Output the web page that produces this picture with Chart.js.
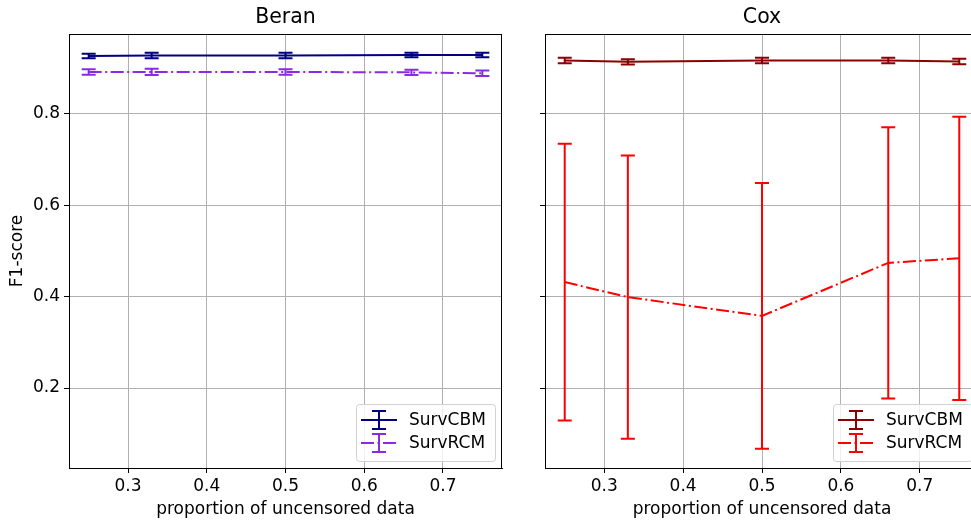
<!DOCTYPE html>
<html>
<head>
<meta charset="utf-8">
<script src="https://cdn.jsdelivr.net/npm/chart.js@4.4.0/dist/chart.umd.min.js"></script>
<style>
  html, body { margin: 0; padding: 0; background: #fff; overflow: hidden; width: 971px; height: 523px; }
  canvas { position: absolute; top: 0; }
  #chartBeran { left: 0; }
  #chartCox { left: 510px; }
</style>
</head>
<body>
<canvas id="chartBeran" width="520" height="523"></canvas>
<canvas id="chartCox" width="490" height="523"></canvas>
<script>
/* ---- data ---- */
const xVals  = [0.25, 0.33, 0.5, 0.66, 0.75];
const xTicks = [0.3, 0.4, 0.5, 0.6, 0.7];
const yTicks = [0.2, 0.4, 0.6, 0.8];

const beranCBM    = [0.927, 0.928, 0.928, 0.929, 0.929];
const beranCBMErr = [0.005, 0.006, 0.006, 0.005, 0.005];
const beranRCM    = [0.892, 0.892, 0.892, 0.891, 0.889];
const beranRCMErr = [0.006, 0.007, 0.006, 0.006, 0.006];

const coxCBM    = [0.917, 0.914, 0.917, 0.917, 0.915];
const coxCBMErr = [0.006, 0.006, 0.006, 0.006, 0.006];
const coxRCM    = [0.432, 0.399, 0.358, 0.474, 0.484];
const coxRCMErr = [0.303, 0.310, 0.291, 0.297, 0.310];

const FONT = "'DejaVu Sans', sans-serif";
const FS = 17;
const DASHDOT = [13, 3.5, 2, 3.5];

Chart.defaults.font.family = FONT;
Chart.defaults.color = '#000';

function series(label, vals, errs, color, dash) {
  return {
    label, borderColor: color, backgroundColor: color, borderWidth: 2,
    borderDash: dash || [], pointRadius: 0, fill: false, tension: 0,
    data: xVals.map((x, i) => ({ x, y: vals[i] })),
    errors: errs
  };
}

// error bars with caps, clipped to the axes like matplotlib
const errorBars = {
  id: 'errorBars',
  afterDatasetsDraw(chart) {
    const { ctx, chartArea: a, scales: { x, y } } = chart;
    ctx.save();
    ctx.beginPath(); ctx.rect(a.left, a.top, a.width, a.height); ctx.clip();
    chart.data.datasets.forEach(ds => {
      ctx.strokeStyle = ds.borderColor; ctx.lineWidth = 2; ctx.setLineDash([]);
      ds.data.forEach((p, i) => {
        const e = ds.errors[i];
        const px = x.getPixelForValue(p.x);
        const lo = y.getPixelForValue(p.y - e), hi = y.getPixelForValue(p.y + e);
        ctx.beginPath();
        ctx.moveTo(px, lo); ctx.lineTo(px, hi);
        ctx.moveTo(px - 7, lo); ctx.lineTo(px + 7, lo);
        ctx.moveTo(px - 7, hi); ctx.lineTo(px + 7, hi);
        ctx.stroke();
      });
    });
    ctx.restore();
  }
};

// frame, title and a matplotlib-style legend
const decor = {
  id: 'decor',
  afterDraw(chart) {
    const { ctx, chartArea: a } = chart;
    const o = chart.options.plugins.decor;
    ctx.save();
    ctx.strokeStyle = '#000'; ctx.lineWidth = 1; ctx.setLineDash([]);
    ctx.strokeRect(Math.round(a.left) + 0.5, Math.round(a.top) + 0.5, Math.round(a.width) - 1, Math.round(a.height));

    ctx.fillStyle = '#000';
    ctx.font = `20.5px ${FONT}`;
    ctx.textAlign = 'center'; ctx.textBaseline = 'middle';
    ctx.fillText(o.title, (a.left + a.right) / 2, 18);

    const w = 139, h = 57;
    const bx = a.right - 7 - w, by = a.bottom - 7 - h;
    ctx.beginPath();
    ctx.roundRect(bx + 0.5, by + 0.5, w, h, 3);
    ctx.fillStyle = 'rgba(255,255,255,0.8)'; ctx.fill();
    ctx.strokeStyle = '#d0d0d0'; ctx.stroke();

    chart.data.datasets.forEach((ds, i) => {
      const cy = by + 16 + i * 23, x0 = bx + 5, x1 = bx + 41, cx = bx + 23;
      ctx.strokeStyle = ds.borderColor; ctx.lineWidth = 2;
      ctx.setLineDash(ds.borderDash);
      ctx.beginPath(); ctx.moveTo(x0, cy); ctx.lineTo(x1, cy); ctx.stroke();
      ctx.setLineDash([]);
      ctx.beginPath();
      ctx.moveTo(cx, cy - 9); ctx.lineTo(cx, cy + 9);
      ctx.moveTo(cx - 7, cy - 9); ctx.lineTo(cx + 7, cy - 9);
      ctx.moveTo(cx - 7, cy + 9); ctx.lineTo(cx + 7, cy + 9);
      ctx.stroke();
      ctx.fillStyle = '#000'; ctx.font = `${FS}px ${FONT}`;
      ctx.textAlign = 'left';
      ctx.fillText(ds.label, bx + 53, cy + 1);
    });
    ctx.restore();
  }
};

function makeChart(id, title, datasets, yWidth, padRight, showYLabels) {
  return new Chart(document.getElementById(id), {
    type: 'line',
    data: { datasets },
    plugins: [errorBars, decor],
    options: {
      responsive: false, animation: false,
      layout: { padding: { top: 34, right: padRight, left: 0, bottom: 0 } },
      plugins: { legend: { display: false }, tooltip: { enabled: false }, decor: { title } },
      scales: {
        x: {
          type: 'linear', min: 0.225, max: 0.775,
          afterBuildTicks: s => { s.ticks = xTicks.map(v => ({ value: v })); },
          afterFit: s => { s.height = 55; },
          ticks: { font: { size: FS }, padding: 3, maxRotation: 0, callback: v => v.toFixed(1) },
          grid: { color: '#b0b0b0', lineWidth: 1, tickColor: '#000', tickLength: 5, tickWidth: 1 },
          border: { color: '#000', width: 1 },
          title: { display: true, text: 'proportion of uncensored data', font: { size: FS }, padding: { top: 0, bottom: 3 } }
        },
        y: {
          min: 0.025, max: 0.975,
          afterBuildTicks: s => { s.ticks = yTicks.map(v => ({ value: v })); },
          afterFit: s => { s.width = yWidth; },
          ticks: { font: { size: FS }, padding: 4, callback: v => showYLabels ? v.toFixed(1) : '' },
          grid: { color: '#b0b0b0', lineWidth: 1, tickColor: '#000', tickLength: 5, tickWidth: 1 },
          border: { color: '#000', width: 1 },
          title: { display: showYLabels, text: 'F1-score', font: { size: FS }, padding: { top: 7, bottom: 0 } }
        }
      }
    }
  });
}

makeChart('chartBeran', 'Beran', [
  series('SurvCBM', beranCBM, beranCBMErr, '#000080'),
  series('SurvRCM', beranRCM, beranRCMErr, '#8a2be2', DASHDOT)
], 69, 18, true);

makeChart('chartCox', 'Cox', [
  series('SurvCBM', coxCBM, coxCBMErr, '#8b0000'),
  series('SurvRCM', coxRCM, coxRCMErr, '#ff0000', DASHDOT)
], 35, 21, false);
</script>
</body>
</html>
